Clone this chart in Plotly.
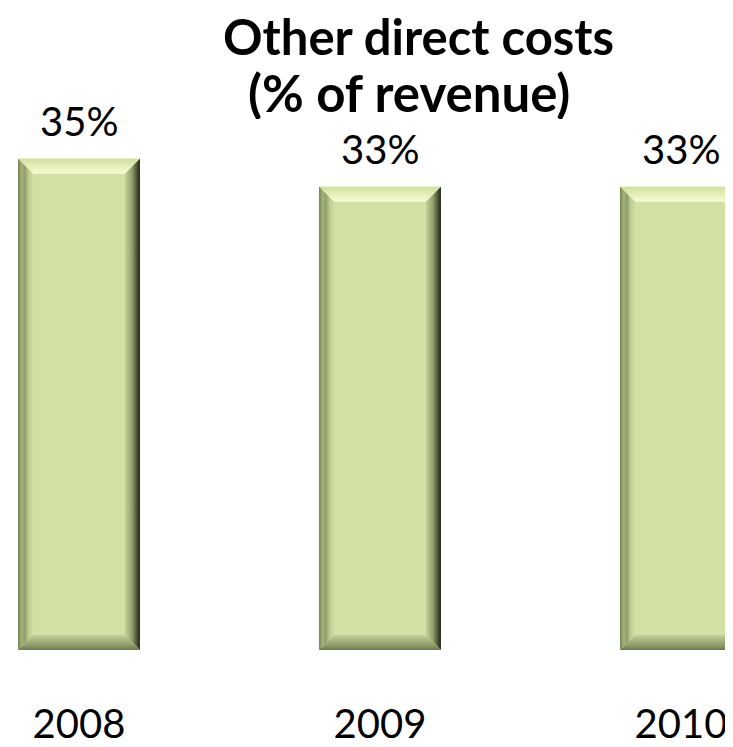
import plotly.graph_objects as go

# ---- data ----
years = ["2008", "2009", "2010"]
values = [35, 33, 33]
labels = ["35%", "33%", "33%"]
title_lines = ["<b>Other direct costs</b>", "<b>(% of revenue)</b>"]

# ---- layout constants (page body adds an 8px offset) ----
W, H = 725, 739
MB = 97
x_range = [-0.2359, 2.1728]
y_range = [0, 45.73]
bar_w = 0.405
FONT = "Lato"

px_x = W / (x_range[1] - x_range[0])
px_y = (H - MB) / (y_range[1] - y_range[0])
bev = 15
bx = bev / px_x
by = bev / px_y

xs = list(range(len(years)))

fig = go.Figure()
fig.add_trace(go.Bar(
    x=xs, y=values, width=bar_w,
    marker=dict(color="#d2e1a3", line=dict(width=0)),
    hoverinfo="skip", showlegend=False,
))

top_cs = [[0, "#f6fbd6"], [0.35, "#eaf3c0"], [1, "#d0dea0"]]
left_cs = [[0, "#74804e"], [0.25, "#a6b47c"], [0.45, "#8f9c69"], [0.7, "#bccb90"], [1, "#cfdea2"]]
right_cs = [[0, "#c4d298"], [0.45, "#95a26e"], [0.8, "#4a5236"], [1, "#1e2217"]]
bot_cs = [[0, "#6c784c"], [0.3, "#8e9b6a"], [0.7, "#aab883"], [1, "#c6d49a"]]

for i, v in zip(xs, values):
    L, R, T, B = i - bar_w / 2, i + bar_w / 2, v, 0
    Li, Ri, Ti, Bi = L + bx, R - bx, T - by, B + by
    polys = [
        ([L, R, Ri, Li, L], [T, T, Ti, Ti, T], "vertical", top_cs),
        ([L, Li, Li, L, L], [T, Ti, Bi, B, T], "horizontal", left_cs),
        ([R, R, Ri, Ri, R], [T, B, Bi, Ti, T], "horizontal", right_cs),
        ([L, Li, Ri, R, L], [B, Bi, Bi, B, B], "vertical", bot_cs),
    ]
    for px, py, orient, cs in polys:
        fig.add_trace(go.Scatter(
            x=px, y=py, mode="lines", fill="toself",
            line=dict(width=0),
            fillgradient=dict(type=orient, colorscale=cs),
            hoverinfo="skip", showlegend=False,
        ))

for i, v, t in zip(xs, values, labels):
    fig.add_annotation(x=i, y=v, text=t, showarrow=False, yanchor="bottom",
                       yshift=12, font=dict(family=FONT, size=40, color="black"))

# title as two lines
for txt, cx, cy, fs in zip(title_lines, [410, 401], [28, 84], [49, 51]):
    fig.add_annotation(xref="paper", yref="paper", x=cx / W, y=1, yshift=-cy,
                       xanchor="center", yanchor="middle", text=txt,
                       showarrow=False, height=54,
                       font=dict(family=FONT, size=fs, color="black"))

fig.update_layout(
    width=W, height=H,
    margin=dict(l=0, r=0, t=0, b=MB),
    paper_bgcolor="white", plot_bgcolor="white",
    xaxis=dict(range=x_range, tickvals=xs, ticktext=years, showgrid=False,
               zeroline=False, showline=False, ticks="",
               ticklabelstandoff=47,
               tickfont=dict(family=FONT, size=40, color="black")),
    yaxis=dict(range=y_range, visible=False, showgrid=False, zeroline=False),
    showlegend=False,
)

fig.write_html("out.html")
